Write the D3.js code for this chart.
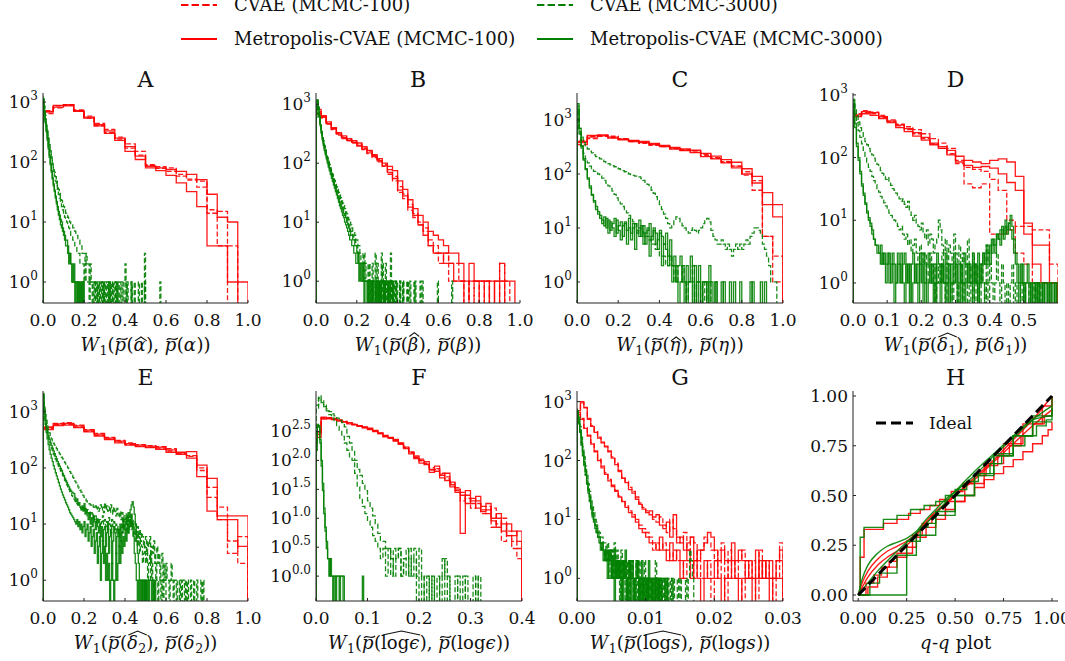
<!DOCTYPE html>
<html><head><meta charset="utf-8">
<script src="https://cdn.jsdelivr.net/npm/d3@7"></script>
<style>body{margin:0;background:#fff}svg{display:block}</style>
</head><body><svg id="c" width="1065" height="661"></svg>
<script>
// ===================== DATA =====================
const panelIds = ["A","B","C","D","E","F","G","H"];
const legendLabels = ["CVAE (MCMC-100)","CVAE (MCMC-3000)","Metropolis-CVAE (MCMC-100)","Metropolis-CVAE (MCMC-3000)"];
const ticksUnit = [0,0.2,0.4,0.6,0.8,1.0];
const ticksD = [0,0.1,0.2,0.3,0.4,0.5];
const ticksF = [0,0.1,0.2,0.3,0.4];
const ticksG = [0,0.01,0.02,0.03];
const ticksH = [0,0.25,0.5,0.75,1.0];
const yExpInt = [0,1,2,3];
const yExpF = [0,0.5,1,1.5,2,2.5];
// bin widths per panel A..G
const redBinW   = [0.05,0.025,0.05,0.025,0.05,0.01,0.0005];
const gDashBinW = [0.005,0.005,0.01,0.005,0.005,0.005,0.0002];
const gSolBinW  = [0.005,0.005,0.01,0.005,0.005,0.0025,0.0002];

// ---- Panel A
const A_rD1 = [640,860,900,740,580,440,350,260,200,150,90,84,80,58,52,48,14,15,4];
const A_rD2 = [720,800,880,700,540,400,310,240,170,130,88,78,70,62,50,38,16,4];
const A_rS1 = [700,880,860,720,560,420,330,250,180,125,85,80,75,70,62,51,29,12,10];
const A_rS2 = [680,820,900,700,540,400,300,230,150,110,80,72,60,45,32,18,4,4,1,1];
const A_gD1 = [1250,850,600,440,330,250,195,155,125,100,82,68,57,48,41,35,30,26,23,20,18,16,14,13,12,11,10,9,9,8,8,7,6,6,5,5,4,4,3,3,3,2,3,2,2,1,2,1,1,1,
  0,1,1,0,1,0,1,1,0,1,0,0,1,1,0,1,0,1,0,0,1,0,1,0,0,1,0,0,0,1,2,0,1,0,0,0,1,0,0,0,0,0,0,1,0,0,0,0,0,3,0,0,0,0,0,0,0,0,0,0,0,0,0,0,1];
const A_gD2 = [1000,720,510,370,275,210,165,130,105,85,70,58,48,40,34,29,25,21,18,16,14,12,11,10,9,8,7,6,6,5,5,4,4,3,3,3,2,2,2,2,1,2,1,1,1,0,1,1,0,1,
  1,0,1,0,0,1,1,0,1,0,1,0,0,1,0,1,0,0,1,0,0,1,0,1,0,0,0,1,0,0,0,1,0,0,0,0,1,0,0,1,0,0,0,0,0,0,1,0,0,1];
const A_gS1 = [1100,700,480,340,250,180,130,95,72,55,43,34,27,22,18,15,13,11,10,8,7,6,5,5,4,3,3,2,2,1,2,1,1,0,1,1,0,1,0,1];
const A_gS2 = [950,650,450,320,230,165,120,90,68,52,40,32,25,20,16,13,11,9,8,7,6,5,4,4,3,2,3,2,1,1,1,0,1,1,0,1,0,0,1,1];

// ---- Panel B
const B_rD1 = [750,620,480,390,320,280,250,230,210,180,160,135,115,95,78,60,40,30,20,14,10,8,5,4,3,3,2,2,1,1,0,1,1,0,1,1,2,1];
const B_rD2 = [680,580,460,370,300,260,240,220,195,170,145,125,105,88,65,50,32,25,16,12,9,7,4,3,2,3,1,1,1,0,1,0,1,1,0,0,2];
const B_rS1 = [820,640,500,400,330,290,260,240,220,190,165,140,120,100,88,75,50,36,24,17,13,10,7,6,5,4,3,3,2,1,2,1,1,1,0,1,1,1,1];
const B_rS2 = [700,600,470,380,310,270,245,225,200,175,150,130,110,90,70,55,35,28,18,13,9,6,4,3,3,2,2,1,1,0,1,1,0,1,1,0,1];
const B_gD1 = [900,1150,880,640,480,370,295,240,200,170,145,125,108,95,83,73,65,57,51,45,40,36,32,29,26,23,21,19,17,15,14,12,11,10,9,8,7,7,6,5,5,4,4,3,3,3,2,3,2,2,2,1,2,1,1,2,1,1,3,1,
  2,1,0,1,3,1,1,0,2,1,1,0,1,3,0,1,0,1,0,1,0,0,1,0,0,1,0,0,0,1,0,0,1,0,0,0,0,1,0,0,0,0,1,0,0,0,0,0,0,0,0,0,0,0,0,0,0,0,0,1,0,0,0,0,0,0,0,0,0,0,0,0,0,1];
const B_gD2 = [700,1000,800,600,450,350,280,230,190,160,138,118,102,89,78,68,60,53,47,42,37,33,29,26,23,21,18,16,15,13,12,10,9,8,7,7,6,5,5,4,4,3,3,3,2,2,2,1,2,1,1,1,0,1,1,0,1,1,0,1,
  1,0,1,1,0,2,1,0,1,0,1,0,0,1,0,1,0,0,1,0,0,0,1,0,0,1,0,0,0,0,1,0,0,0,0,0,1,0,0,0,0,0,0,0,1];
const B_gS1 = [600,1200,900,620,450,340,270,220,180,150,130,110,95,82,72,63,55,48,42,37,32,28,25,22,20,18,16,14,13,12,10,9,8,7,6,6,5,5,4,4,3,3,2,2,2,1,2,1,1,1,1,0,1,1,1,0,1,1,0,1,1,0,1,0,1,1,0,1,0,0,1,0,1,0,0,1];
const B_gS2 = [800,1100,850,600,430,320,250,200,165,140,118,100,86,75,65,56,49,43,38,33,29,25,22,19,17,15,13,12,10,9,8,7,6,5,5,4,4,3,3,2,2,3,1,2,1,1,1,0,1,1,0,1,1,0,1,0,1,1,0,1,0,1,0,0,1,1,0,1];

// ---- Panel C
const C_rD1 = [420,500,520,500,450,410,390,360,330,300,280,270,230,200,170,140,110,75,7,1];
const C_rD2 = [350,450,500,470,440,400,370,340,320,295,275,255,220,195,165,140,95,50,7,3];
const C_rS1 = [400,520,530,480,440,420,400,370,340,310,290,275,240,215,185,165,125,90,45,27];
const C_rS2 = [380,480,510,460,430,400,380,350,320,290,270,250,210,190,160,130,100,68,27,16];
const C_gD1 = [1500,700,480,380,320,290,265,245,225,210,200,190,180,170,162,155,148,142,136,130,
  125,120,115,110,105,100,97,94,91,90,88,82,76,70,64,58,50,44,38,32,27,22,18,15,12,10,11,14,16,15,
  13,11,10,9,8,9,10,9,8,9,10,12,14,15,13,9,7,6,5,5,6,5,4,5,4,3,4,5,4,5,4,5,6,5,7,8,10,10,9,8,5,4,3,2,1,1,1];
const C_gD2 = [1800,550,330,240,190,160,140,125,112,105,100,92,84,76,68,60,54,48,42,36,32,28,25,22,19,17,15,13,12,10,10,9,8,7,7,6,5,5,4,4,3,3,3,2,2,3,2,1,2,1,1,2,1,0,1,1,2,0,1,1,0,1,0,1,1];
const C_gS1 = [2000,600,300,180,120,80,55,40,30,22,18,15,12,16,10,14,9,12,15,8,11,13,7,12,9,15,6,10,12,8,14,7,11,5,9,12,6,10,8,4,9,7,5,8,3,6,2,3,1,2,3,1,0,2,1,3,1,0,1,2,0,1,1,0,2,1,0,1,0,0,1,0,0,0,1,0,0,0,0,1,0,0,0,0,0,1,0,0,0,0,0,1];
const C_gS2 = [1600,700,330,190,125,85,60,42,32,25,20,17,14,11,15,8,13,10,7,14,9,6,11,13,5,10,8,12,4,9,7,11,5,8,10,3,7,9,5,6,8,2,5,4,2,3,1,2,1,0,1,2,1,0,1,1,0,2,0,1,0,1,1,0,1,0,0,1,0,0,0,1,0,0,0,0,1,0,0,0,0,0,0,0,1,0,0,0,0,1];

// ---- Panel D
const D_rD1 = [500,560,530,470,400,340,310,280,240,200,170,140,90,38,33,38,6,6,7,8,8,7,7,2];
const D_rD2 = [470,520,500,440,380,320,280,240,200,165,140,115,80,70,65,60,45,30,10,3,2,1,1];
const D_rS1 = [480,540,520,450,380,330,290,250,210,170,150,130,105,90,85,80,90,95,85,50,9,4,4,1];
const D_rS2 = [450,500,470,420,360,300,260,220,190,160,140,110,85,75,70,72,68,55,40,30,6,2,1,1];
const D_gD1 = [850,620,470,370,300,250,210,180,160,140,125,110,98,88,78,70,62,56,50,45,48,40,36,32,30,27,25,22,20,22,
  18,16,20,14,12,10,12,9,8,7,9,6,5,7,4,6,5,3,4,5,10,7,4,3,5,2,4,3,2,6,3,2,4,1,3,2,1,5,2,1,
  3,1,2,0,1,2,1,0,4,1,2,1,0,1,3,1,0,2,1,0,1,0,1,2,0,1,0,0,1,0,1,0,0,1,0,0,1,0,0,1];
const D_gD2 = [750,500,360,270,210,165,130,105,85,70,60,50,43,37,32,28,24,21,19,17,15,13,12,11,10,9,8,7,8,6,
  5,6,4,5,3,4,5,3,2,4,3,2,3,1,2,3,1,2,0,1,2,1,3,1,0,2,1,1,0,2,1,0,1,2,0,1,1,0,1,0,2,0,1,0,1,0,0,1,0,1];
const D_gS1 = [800,300,150,90,55,35,25,18,13,10,8,6,5,4,3,3,4,2,3,2,3,1,2,3,2,1,3,2,1,2,3,1,2,0,2,3,1,2,1,3,2,0,1,2,3,1,2,1,0,3,2,1,2,1,3,1,0,2,1,3,
  2,1,2,0,1,3,2,1,2,1,3,2,1,0,2,1,3,2,2,3,4,3,5,4,6,5,7,8,6,10,7,9,12,8,5,3,2,1,2,1,0,1,2,1,0,1,1,0,1,0,1,0,1,1,0,1,0,1,0,1];
const D_gS2 = [700,350,170,100,60,38,27,19,14,11,9,7,5,4,4,3,2,3,2,1,2,3,1,2,0,1,2,1,3,1,0,2,1,2,0,1,2,1,0,2,1,3,1,0,1,2,1,0,2,1,1,0,2,1,0,1,2,0,1,1,
  2,0,1,2,1,0,1,2,1,1,0,2,1,3,1,2,3,2,4,3,2,5,4,3,6,5,4,7,5,8,6,9,7,5,3,2,1,0,1,2,0,1,1,0,1,0,1,0,1,0,0,1,0,1,0,1,0,0,1];

// ---- Panel E
const E_rD1 = [540,620,640,580,480,410,350,310,280,260,250,240,220,180,160,100,30,20,3,6];
const E_rD2 = [500,590,600,540,450,380,330,290,260,245,235,225,200,185,165,90,45,12,5,2];
const E_rS1 = [520,610,620,560,470,400,340,300,270,255,245,235,210,190,195,112,65,14,14,14];
const E_rS2 = [480,570,580,520,440,370,320,280,255,240,230,215,190,175,150,70,17,12,12,4];
const E_gD1 = [2200,1300,900,700,570,480,420,370,330,300,275,255,235,220,205,190,178,165,155,145,
  135,125,117,108,100,93,86,80,74,68,63,58,54,50,46,43,40,37,34,32,30,28,26,25,24,23,22,21,22,20,
  19,21,18,20,17,19,22,18,20,16,24,18,21,17,20,16,22,18,15,20,17,14,19,15,13,17,12,16,11,14,
  12,15,10,13,11,14,9,12,10,8,11,7,9,6,8,5,7,6,4,5,6,3,5,4,6,2,4,3,5,2,3,4,2,3,1,2,3,1,2,1,
  2,1,1,0,1,2,1,0,1,1,0,1,1,0,1,0,1,1,0,1,0,1,0,0,1,0,0,1,0,0,1,0,0,0,1,0,1];
const E_gD2 = [1800,1000,700,520,410,340,290,250,220,195,175,158,143,130,118,107,97,88,80,73,
  66,60,55,50,46,42,38,35,32,30,28,26,24,23,22,21,20,19,18,20,17,19,16,18,15,17,14,16,13,15,
  12,14,11,13,10,12,9,11,14,10,12,9,11,8,13,10,7,12,9,11,8,10,7,9,6,8,10,7,12,9,
  11,8,10,7,9,12,8,10,6,8,5,7,4,6,3,5,4,2,3,4,2,3,1,2,3,1,2,1,0,1,2,1,0,1,1,0,1,0,1,1];
const E_gS1 = [2000,1100,750,560,450,370,320,280,250,225,200,180,160,145,130,118,108,98,90,80,73,66,60,55,50,46,42,39,37,36,
  35,30,25,28,22,24,20,18,21,17,23,15,18,14,12,16,10,13,9,14,11,8,12,9,7,10,6,9,5,8,9,4,7,10,3,6,8,2,5,9,
  7,3,6,8,4,10,5,7,12,8,10,14,11,16,13,18,22,25,20,15,10,5,3,2,1,1,0,1,1,0,1,0,1,0,1,1,0,1,0,1];
const E_gS2 = [1500,900,600,430,330,260,210,175,150,130,110,95,82,72,63,55,48,42,37,33,30,27,24,22,20,18,16,15,14,13,
  12,11,10,12,9,11,8,10,7,9,11,6,8,10,5,7,9,4,6,8,3,5,7,2,4,6,1,3,5,2,4,1,3,1,2,0,1,2,1,0,
  1,3,1,2,4,2,5,3,6,4,8,5,10,7,12,9,15,10,6,3,2,1,0,1,0,1,1,0,1,0,1];

// ---- Panel F
const F_rD1 = [280,540,550,530,490,465,440,415,395,370,350,320,295,265,245,225,195,165,135,120,105,90,75,70,60,52,40,30,28,22,18,20,14,12,15,8,10,5,4,3];
const F_rD2 = [320,550,530,515,495,475,445,425,400,375,345,325,290,262,248,220,198,168,138,112,98,88,68,72,58,48,38,34,20,25,15,18,12,16,7,10,4,6,3,2];
const F_rS1 = [300,560,540,520,500,470,450,420,400,380,360,330,300,270,250,230,200,170,140,115,100,95,62,80,55,60,42,32,5.5,30,20,24,16,18,10,12,6,8,6,4];
const F_rS2 = [250,520,530,510,480,460,430,410,390,365,340,315,290,255,240,215,190,160,130,108,90,85,70,65,50,45,35,28,25,18,22,15,13,14,9,7,8,5,5,6];
const F_gD1 = [900,1300,1100,900,780,700,640,590,540,490,450,380,260,200,150,100,70,55,40,30,20,15,11,8,5.5,4,4,3,3,1,3,2,3,1,2,3,1,2,3,1,3,1,0,1,0,1,0,1,0,1,2,1,0,0,1,0,0,1,0,0,0,1,0,1];
const F_gD2 = [800,1200,1000,850,720,620,540,470,400,330,260,200,150,110,100,60,35,22,16,12,9,7,5,4,3,2,3,1,3,2,1,2,3,1,2,1,3,1,2,0,1,0,1,1,0,1,0,0,1,2,0,1,0,0,0,1,0,0,1,0,0,0,1];
const F_gS1 = [200,420,380,200,80,30,12,6,4,2,1,2,1,1,1,0,1,1,1,1,1,1,0,0,0,0,0,0,0,0,0,0,0,0,0,0,1];
const F_gS2 = [150,380,400,230,100,40,15,7,3,2,2,1,1,0,1,1,1,1,0,1,1];

// ---- Panel G
const G_rD1 = [750,950,780,520,390,310,250,205,175,145,115,90,68,52,44,35,30,24,19,16,14,12,10,9,11,8,6,10,7,5,4,6,3,5,4,2,3,5,4,3,2,3,4,1,3,2,1,2,3,2,1,2,1,3,1,2,1,1,2,4];
const G_rD2 = [600,520,360,270,200,145,105,80,62,48,38,31,25,21,17,14,12,10,8,7,6,5,3,4,3,4,3,2,3,2,2,1,2,2,1,3,1,1,2,0,1,2,1,0,2,1,1,1,0,2,1,1,0,2,1,1,1,0,1,2];
const G_rS1 = [700,1000,800,500,380,300,240,200,170,140,110,85,65,50,42,32,28,22,18,15,13,14,11,12,8,7,9,5,12,4,5,3,4,5,2,3,3,4,6,5,3,2,3,2,2,4,2,3,2,1,2,1,3,1,2,1,2,1,2,3];
const G_rS2 = [650,500,350,260,190,140,100,75,58,45,36,30,24,20,16,13,11,9,7,6,5,4,4,3,5,3,2,4,2,3,1,2,3,1,2,1,0,2,1,1,2,1,0,1,1,2,1,0,1,1,1,0,1,1,2,1,0,1,1,1];
const G_gD1 = [750,550,380,250,170,115,80,56,40,30,22,17,13,10,9,7,6,5,5,4,4,3,4,2,3,3,2,4,1,3,2,1,3,2,1,2,0,2,1,1,2,0,1,2,1,0,1,1,0,2,1,0,1,1,0,1,0,2,1,0,1,0,1,0,1,1,0,0,1,0,1,0,0,1,0,1,0,0,0,1,0,1,3,2,1];
const G_gD2 = [600,420,280,180,120,82,56,40,29,21,16,12,10,8,6,5,5,4,3,3,2,3,2,1,2,3,1,2,1,2,1,0,2,1,1,0,1,2,0,1,1,1,0,1,0,2,1,0,1,0,1,0,1,0,1,0,0,1,0,1,0,1,0,0,1,0,1,0,0,1];
const G_gS1 = [700,500,330,210,140,95,65,45,32,24,17,13,10,8,7,6,5,4,4,3,3,2,3,2,3,1,2,3,1,2,1,2,0,2,1,3,1,0,2,1,2,0,1,1,2,0,1,2,0,1,1,0,2,1,0,1,1,0,1,0,1,0,1,1,0,1];
const G_gS2 = [650,450,300,190,125,85,58,40,28,20,15,11,9,7,6,5,4,3,4,2,3,2,1,3,2,1,2,0,2,1,2,1,1,0,2,1,0,1,2,0,1,1,0,2,1,0,1,0,1,1,0,1,0,1,1,0,1,0,0,1];

// ---- Panel H (q-q curves, [theoretical, empirical])
const H_ideal = [[0,0],[1,1]];
const H_r1 = [[0,0],[0.02,0.06],[0.05,0.12],[0.1,0.18],[0.15,0.22],[0.2,0.245],[0.25,0.27],[0.3,0.31],[0.35,0.37],[0.4,0.42],[0.45,0.46],[0.5,0.5],[0.6,0.58],[0.7,0.67],[0.8,0.76],[0.9,0.85],[0.96,0.9],[1,0.93]];
const H_r2 = [[0,0],[0.05,0.09],[0.1,0.15],[0.15,0.19],[0.2,0.22],[0.25,0.25],[0.3,0.3],[0.35,0.36],[0.4,0.41],[0.5,0.5],[0.6,0.59],[0.7,0.68],[0.8,0.78],[0.9,0.88],[1,1]];
const H_r3 = [[0,0],[0.01,0.19],[0.03,0.33],[0.13,0.36],[0.2,0.38],[0.26,0.41],[0.32,0.43],[0.37,0.45],[0.42,0.48],[0.48,0.52],[0.54,0.56],[0.6,0.6],[0.66,0.65],[0.72,0.7],[0.78,0.75],[0.84,0.8],[0.9,0.86],[0.96,0.9],[1,1]];
const H_r4 = [[0,0],[0.05,0.04],[0.1,0.09],[0.15,0.14],[0.2,0.19],[0.25,0.24],[0.3,0.29],[0.35,0.34],[0.4,0.38],[0.45,0.43],[0.5,0.47],[0.55,0.5],[0.6,0.54],[0.65,0.58],[0.7,0.61],[0.75,0.645],[0.8,0.68],[0.85,0.72],[0.9,0.76],[0.95,0.8],[0.98,0.83],[1,0.87]];
const H_r5 = [[0,0],[0.04,0.06],[0.08,0.1],[0.12,0.14],[0.16,0.17],[0.2,0.21],[0.28,0.3],[0.33,0.36],[0.38,0.4],[0.45,0.47],[0.55,0.56],[0.65,0.66],[0.75,0.76],[0.85,0.86],[0.95,0.95],[1,1]];
const H_g1 = [[0,0],[0.02,0.08],[0.05,0.15],[0.1,0.21],[0.15,0.245],[0.2,0.265],[0.25,0.285],[0.3,0.32],[0.35,0.38],[0.4,0.43],[0.45,0.48],[0.5,0.52],[0.6,0.6],[0.7,0.7],[0.8,0.79],[0.9,0.88],[1,0.95]];
const H_g2 = [[0,0],[0.01,0.29],[0.03,0.34],[0.13,0.38],[0.2,0.4],[0.27,0.43],[0.34,0.45],[0.4,0.47],[0.45,0.5],[0.5,0.53],[0.56,0.57],[0.62,0.61],[0.68,0.66],[0.74,0.7],[0.8,0.75],[0.86,0.8],[0.92,0.85],[0.97,0.88],[1,0.94]];
const H_g3 = [[0,0],[0.25,0.27],[0.32,0.34],[0.36,0.36],[0.4,0.42],[0.5,0.5],[0.6,0.6],[0.7,0.7],[0.8,0.8],[0.9,0.9],[1,1]];
const H_g4 = [[0,0],[0.06,0.06],[0.11,0.11],[0.2,0.2],[0.3,0.3],[0.4,0.4],[0.5,0.5],[0.6,0.61],[0.7,0.71],[0.8,0.8],[0.9,0.87],[1,0.87]];
const H_g5 = [[0,0],[0.1,0.12],[0.2,0.22],[0.3,0.31],[0.4,0.41],[0.5,0.52],[0.6,0.62],[0.7,0.71],[0.8,0.8],[0.9,0.88],[1,0.9]];

// ===================== DRAWING =====================
const RED = "#ff0000", GREEN = "#008000";
const FONT = "'DejaVu Serif', 'Liberation Serif', serif";
const svg = d3.select("#c");

const layout = [
  {l:43, r:248, t:93, b:303}, {l:316, r:520, t:93, b:303},
  {l:577, r:783, t:93, b:303}, {l:853, r:1058, t:93, b:303},
  {l:43, r:248, t:391, b:601}, {l:316, r:522, t:391, b:601},
  {l:577, r:783, t:391, b:601}, {l:853, r:1058, t:391, b:601}
];
const xDomains = [[0,1],[0,1],[0,1],[0,0.6],[0,1],[0,0.4],[0,0.03],[-0.027,1.031]];
const yExpDomains = [[-0.35,3.15],[-0.37,3.19],[-0.39,3.5],[-0.32,3.03],[-0.37,3.37],[-0.43,3.2],[-0.385,3.18]];
const xTicks = [ticksUnit,ticksUnit,ticksUnit,ticksD,ticksUnit,ticksF,ticksG,ticksH];
const xFmt = [".1f",".1f",".1f",".1f",".1f",".1f",".2f",".2f"];
const runs = [
  [[A_rD1,A_rD2],[A_rS1,A_rS2],[A_gD1,A_gD2],[A_gS1,A_gS2]],
  [[B_rD1,B_rD2],[B_rS1,B_rS2],[B_gD1,B_gD2],[B_gS1,B_gS2]],
  [[C_rD1,C_rD2],[C_rS1,C_rS2],[C_gD1,C_gD2],[C_gS1,C_gS2]],
  [[D_rD1,D_rD2],[D_rS1,D_rS2],[D_gD1,D_gD2],[D_gS1,D_gS2]],
  [[E_rD1,E_rD2],[E_rS1,E_rS2],[E_gD1,E_gD2],[E_gS1,E_gS2]],
  [[F_rD1,F_rD2],[F_rS1,F_rS2],[F_gD1,F_gD2],[F_gS1,F_gS2]],
  [[G_rD1,G_rD2],[G_rS1,G_rS2],[G_gD1,G_gD2],[G_gS1,G_gS2]]
];

// math label specs
const it = t => ({t, it:true});
const rm = t => ({t});
const sub = t => ({t, sub:true});
const acc = (kind, h, items) => ({acc:kind, h, items});
function pTilde(){ return acc("tilde", 0.74, [it("p")]); }
function wLabel(hatItems, hatH, plainItems){
  return [it("W"), sub("1"), rm("("), pTilde(), rm("("), acc("hat", hatH, hatItems), rm("),"), rm("\u00a0"),
          pTilde(), rm("("), ...plainItems, rm("))")];
}
const xLabels = [
  wLabel([it("α")], 0.78, [it("α")]),
  wLabel([it("β")], 1.02, [it("β")]),
  wLabel([it("η")], 0.78, [it("η")]),
  wLabel([it("δ"), sub("1")], 1.0, [it("δ"), sub("1")]),
  wLabel([it("δ"), sub("2")], 1.0, [it("δ"), sub("2")]),
  wLabel([rm("log"), it("ϵ")], 1.0, [rm("log"), it("ϵ")]),
  wLabel([rm("log"), it("s")], 1.0, [rm("log"), it("s")]),
  [it("q"), rm("-"), it("q"), rm("\u00a0plot")]
];

function mathLabel(g, cx, baseY, items, size){
  const grp = g.append("g");
  let x = 0;
  function lay(list){
    list.forEach(o => {
      if (o.acc){
        const sx = x; lay(o.items); const ex = x;
        const y = baseY - o.h*size;
        let d;
        if (o.acc === "hat"){
          const w = ex - sx, hh = Math.min(0.22*size, 0.12*w + 2.5);
          d = `M${sx+1.5},${y+hh}L${(sx+ex)/2+1},${y}L${ex+0.5},${y+hh}`;
        } else {
          const a = sx+2, b = ex+1, w = b-a;
          d = `M${a},${y+2.2}C${a+w*0.3},${y-1.8} ${a+w*0.6},${y+4.5} ${b},${y+0.3}`;
        }
        grp.append("path").attr("d", d).attr("fill","none").attr("stroke","#111").attr("stroke-width",1.1);
      } else {
        const fs = o.sub ? size*0.7 : size;
        const t = grp.append("text").attr("x", x).attr("y", baseY + (o.sub ? size*0.2 : 0))
          .style("font-family", FONT).attr("font-size", fs).attr("fill","#111")
          .attr("font-style", o.it ? "italic" : "normal").text(o.t);
        x += t.node().getComputedTextLength() + (o.it ? 0.5 : 0);
      }
    });
  }
  lay(items);
  grp.attr("transform", `translate(${cx - x/2},0)`);
}

const defs = svg.append("defs");

panelIds.forEach((id, pi) => {
  const L = layout[pi];
  const g = svg.append("g");
  const xs = d3.scaleLinear().domain(xDomains[pi]).range([L.l, L.r]);
  const cid = "clip" + id;
  defs.append("clipPath").attr("id", cid).append("rect")
    .attr("x", L.l).attr("y", L.t).attr("width", L.r - L.l).attr("height", L.b - L.t);
  const plot = g.append("g").attr("clip-path", `url(#${cid})`);
  let ys, yTickVals;
  if (pi < 7){
    const dom = yExpDomains[pi].map(e => Math.pow(10, e));
    ys = d3.scaleLog().domain(dom).range([L.b, L.t]);
    const yb = L.b + 5;
    const line = d3.line().curve(d3.curveStepAfter)
      .x(d => xs(d[0])).y(d => d[1] > 0 ? ys(d[1]) : yb);
    const groups = runs[pi];
    const widths = [redBinW[pi], redBinW[pi], gDashBinW[pi], gSolBinW[pi]];
    const colors = [RED, RED, GREEN, GREEN];
    const dashed = [true, false, true, false];
    groups.forEach((grpRuns, k) => {
      grpRuns.forEach(counts => {
        const w = widths[k];
        const pts = [[0,0], ...counts.map((c,i) => [i*w, c]), [counts.length*w, 0]];
        plot.append("path").attr("d", line(pts)).attr("fill","none")
          .attr("stroke", colors[k]).attr("stroke-width", 1.3).attr("stroke-opacity", 0.9)
          .attr("stroke-dasharray", dashed[k] ? "5,2.4" : null);
      });
    });
    const exps = pi === 5 ? yExpF : yExpInt;
    yTickVals = exps.map(e => ys(Math.pow(10, e)));
    exps.forEach(e => {
      const y = ys(Math.pow(10, e));
      const t = g.append("text").attr("x", L.l - 5).attr("y", y + 6).attr("text-anchor","end")
        .style("font-family", FONT).attr("font-size", 17).attr("fill","#111");
      t.append("tspan").text("10");
      t.append("tspan").attr("dy", -8).attr("font-size", 12).text(pi === 5 ? e.toFixed(1) : String(e));
    });
  } else {
    ys = d3.scaleLinear().domain([-0.03, 1.025]).range([L.b, L.t]);
    const lineStep = d3.line().curve(d3.curveStepAfter).x(d => xs(d[0])).y(d => ys(d[1]));
    const lineLin = d3.line().curve(d3.curveMonotoneX).x(d => xs(d[0])).y(d => ys(d[1]));
    const curves = [
      [H_r1, RED, false], [H_r2, RED, false], [H_r3, RED, true], [H_r4, RED, true], [H_r5, RED, true],
      [H_g1, GREEN, false], [H_g2, GREEN, true], [H_g3, GREEN, true], [H_g4, GREEN, true], [H_g5, GREEN, false]
    ];
    curves.forEach(([pts, col, step]) => {
      plot.append("path").attr("d", (step ? lineStep : lineLin)(pts)).attr("fill","none")
        .attr("stroke", col).attr("stroke-width", 1.4).attr("stroke-opacity", 0.9);
    });
    plot.append("path").attr("d", d3.line().x(d => xs(d[0])).y(d => ys(d[1]))(H_ideal))
      .attr("fill","none").attr("stroke","#000").attr("stroke-width",3).attr("stroke-dasharray","10,5");
    yTickVals = ticksH.map(v => ys(v));
    ticksH.forEach(v => {
      g.append("text").attr("x", L.l - 5).attr("y", ys(v) + 6).attr("text-anchor","end")
        .style("font-family", FONT).attr("font-size", 17).attr("fill","#111").text(d3.format(".2f")(v));
    });
    g.append("line").attr("x1", 876).attr("x2", 913).attr("y1", 423).attr("y2", 423)
      .attr("stroke","#000").attr("stroke-width",3).attr("stroke-dasharray","10,5");
    g.append("text").attr("x", 929).attr("y", 429).style("font-family", FONT).attr("font-size", 17)
      .attr("fill","#111").text("Ideal");
  }
  // spines
  g.append("line").attr("x1", L.l).attr("x2", L.l).attr("y1", L.t).attr("y2", L.b).attr("stroke","#222").attr("stroke-width",1);
  g.append("line").attr("x1", L.l).attr("x2", L.r).attr("y1", L.b).attr("y2", L.b).attr("stroke","#222").attr("stroke-width",1);
  // inward ticks
  xTicks[pi].forEach(v => {
    g.append("line").attr("x1", xs(v)).attr("x2", xs(v)).attr("y1", L.b).attr("y2", L.b - 3)
      .attr("stroke","#222").attr("stroke-width",1);
  });
  yTickVals.forEach(y => {
    g.append("line").attr("x1", L.l).attr("x2", L.l + 3).attr("y1", y).attr("y2", y)
      .attr("stroke","#222").attr("stroke-width",1);
  });
  // x tick labels
  const f = d3.format(xFmt[pi]);
  xTicks[pi].forEach(v => {
    g.append("text").attr("x", xs(v)).attr("y", L.b + 23).attr("text-anchor","middle")
      .style("font-family", FONT).attr("font-size", 17).attr("fill","#111").text(f(v));
  });
  // title
  const cx = (L.l + L.r) / 2;
  g.append("text").attr("x", cx).attr("y", L.t - 6).attr("text-anchor","middle")
    .style("font-family", FONT).attr("font-size", 22).attr("fill","#111").text(id);
  // x label
  mathLabel(g, cx, L.b + 48, xLabels[pi], 18);
});

// top legend
const legX = [181, 537], legY = [5, 39];
const legStyle = [[RED,true],[GREEN,true],[RED,false],[GREEN,false]];
legendLabels.forEach((lab, i) => {
  const col = i % 2, row = Math.floor(i / 2);
  const [c, dash] = legStyle[i];
  svg.append("line").attr("x1", legX[col]).attr("x2", legX[col] + 36).attr("y1", legY[row]).attr("y2", legY[row])
    .attr("stroke", c).attr("stroke-width", 2).attr("stroke-dasharray", dash ? "7.4,3.2" : null);
  svg.append("text").attr("x", legX[col] + 53).attr("y", legY[row] + 6).style("font-family", FONT)
    .attr("font-size", 18).attr("fill","#111").text(lab);
});
</script></body></html>
